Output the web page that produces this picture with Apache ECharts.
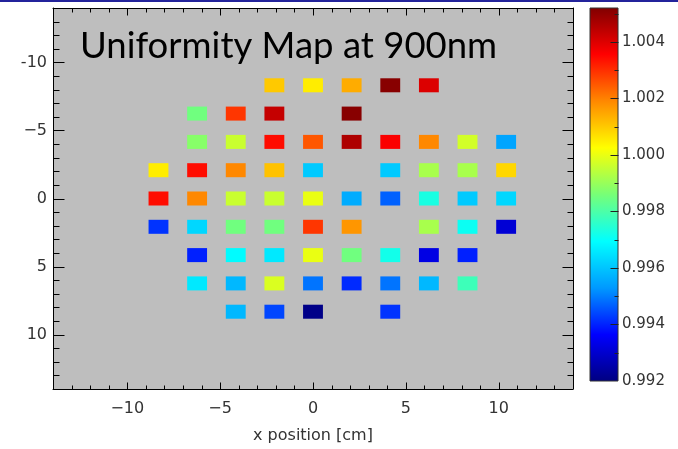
<!DOCTYPE html>
<html>
<head>
<meta charset="utf-8">
<style>
  html, body { margin: 0; padding: 0; background: #ffffff; }
  #chart { width: 678px; height: 449px; }
</style>
<script src="https://cdn.jsdelivr.net/npm/echarts@6/dist/echarts.min.js"></script>
</head>
<body>
<div id="chart"></div>
<script>
// ---- data (positions in cm, values = relative response) ----
const rowY = [-8.32, -6.24, -4.16, -2.08, 0, 2.08, 4.16, 6.24, 8.32];
const rowXs = [
  [-2.08, 0, 2.08, 4.16, 6.24],
  [-6.24, -4.16, -2.08, 2.08],
  [-6.24, -4.16, -2.08, 0, 2.08, 4.16, 6.24, 8.32, 10.4],
  [-8.32, -6.24, -4.16, -2.08, 0, 4.16, 6.24, 8.32, 10.4],
  [-8.32, -6.24, -4.16, -2.08, 0, 2.08, 4.16, 6.24, 8.32, 10.4],
  [-8.32, -6.24, -4.16, -2.08, 0, 2.08, 6.24, 8.32, 10.4],
  [-6.24, -4.16, -2.08, 0, 2.08, 4.16, 6.24, 8.32],
  [-6.24, -4.16, -2.08, 0, 2.08, 4.16, 6.24, 8.32],
  [-4.16, -2.08, 0, 4.16]
];
const rowValues = [
  [1.0010, 1.0005, 1.0014, 1.0051, 1.0040],
  [0.9985, 1.0029, 1.0043, 1.0051],
  [0.9988, 0.9996, 1.0034, 1.0025, 1.0046, 1.0036, 1.0019, 0.9997, 0.9955],
  [1.0005, 1.0034, 1.0019, 1.0011, 0.9961, 0.9961, 0.9992, 0.9992, 1.0008],
  [1.0034, 1.0019, 0.9996, 0.9996, 1.0000, 0.9956, 0.9947, 0.9973, 0.9961, 0.9963],
  [0.9942, 0.9963, 0.9985, 0.9985, 1.0029, 1.0017, 0.9992, 0.9971, 0.9931],
  [0.9940, 0.9969, 0.9966, 1.0000, 0.9985, 0.9972, 0.9933, 0.9940],
  [0.9966, 0.9958, 0.9998, 0.9949, 0.9941, 0.9949, 0.9958, 0.9978],
  [0.9958, 0.9944, 0.9921, 0.9942]
];
const cellSize = [1.07, 1.03];           // cm
const axisRange = [-14, 14];
const majorTicks = [-10, -5, 0, 5, 10];
const colorRange = [0.992, 1.0052];
const colorbarTicks = 0.002;
const jetColors = ['#000080', '#0000ff', '#0099ff', '#00ffff', '#77ff77',
                   '#ffff00', '#ff8800', '#ff0000', '#800000'];
const titleText = 'Uniformity Map at 900nm';
const xName = 'x position [cm]';

// ---- build ----
const cells = [];
rowY.forEach(function (y, i) {
  rowXs[i].forEach(function (x, j) { cells.push([x, y, rowValues[i][j]]); });
});
// tick marks: [value, isMajor]
const plotTicks = [];
for (let t = axisRange[0] + 1; t < axisRange[1]; t++) plotTicks.push([t, t % 5 === 0 ? 1 : 0]);
const barTicks = [];
for (let k = 1; k <= 13; k++) barTicks.push([Math.round((colorRange[0] + k * 0.001) * 1e4) / 1e4, k % 2 === 0 ? 1 : 0]);

const labelFont = { fontFamily: 'DejaVu Sans', fontSize: 16, color: '#333' };
function xLabel(v) { return String(v).replace('-', '\u2212'); }
function yLabel(v) { return v === -10 ? '-10' : String(v).replace('-', '\u2212'); }

function axisBase(extra) {
  return Object.assign({
    type: 'value', gridIndex: 0, min: axisRange[0], max: axisRange[1],
    splitLine: { show: false }, axisTick: { show: false },
    axisLine: { show: true, onZero: false, lineStyle: { color: '#000', width: 1 } }
  }, extra);
}

const xAxes = [
  axisBase({ position: 'bottom', name: xName, nameLocation: 'middle', nameGap: 39,
    nameTextStyle: labelFont,
    axisLabel: Object.assign({ show: true, margin: 12, customValues: majorTicks, formatter: xLabel }, labelFont) }),
  axisBase({ position: 'top', axisLabel: { show: false } }),
  { type: 'value', gridIndex: 1, min: 0, max: 1, show: false }
];
const yAxes = [
  axisBase({ position: 'left', inverse: true,
    axisLabel: Object.assign({ show: true, margin: 6, customValues: majorTicks, formatter: yLabel }, labelFont) }),
  axisBase({ position: 'right', inverse: true, axisLabel: { show: false } }),
  { type: 'value', gridIndex: 1, position: 'right', min: colorRange[0], max: colorRange[1],
    interval: colorbarTicks,
    splitLine: { show: false },
    axisLine: { show: false },
    axisTick: { show: false },
    axisLabel: Object.assign({ margin: 4, showMaxLabel: false,
      formatter: function (v) { return v.toFixed(3); } }, labelFont, { fontSize: 15 }) }
];

function px(v) { return Math.round(v) + 0.5; }
function tickLine(x1, y1, x2, y2, color) {
  return { type: 'line', shape: { x1: x1, y1: y1, x2: x2, y2: y2 }, style: { stroke: color, lineWidth: 1 } };
}

const chart = echarts.init(document.getElementById('chart'), null, { renderer: 'canvas' });
chart.setOption({
  animation: false,
  backgroundColor: '#ffffff',
  grid: [
    { left: 53, top: 8, width: 520, height: 383, show: true, backgroundColor: '#bebebe', borderWidth: 0 },
    { left: 590, top: 8, width: 28, height: 373, show: false }
  ],
  xAxis: xAxes,
  yAxis: yAxes,
  visualMap: {
    type: 'continuous', show: false, seriesIndex: 0, dimension: 2,
    min: colorRange[0], max: colorRange[1],
    inRange: { color: jetColors }
  },
  graphic: [
    { type: 'rect', left: 0, top: 0, shape: { width: 678, height: 2 }, style: { fill: '#23239b' }, z: 100 },
    { type: 'text', x: 80, y: 46, style: { text: titleText, fontFamily: 'Lato', fontSize: 36.5,
      fill: '#000', verticalAlign: 'middle' }, z: 100 }
  ],
  series: [
    {
      type: 'custom', xAxisIndex: 0, yAxisIndex: 0, z: 2,
      data: cells,
      encode: { x: 0, y: 1 },
      renderItem: function (params, api) {
        const c = api.coord([api.value(0), api.value(1)]);
        const s = api.size(cellSize);
        return { type: 'rect',
          shape: { x: c[0] - s[0] / 2, y: c[1] - s[1] / 2, width: s[0], height: s[1] },
          style: { fill: api.visual('color') } };
      }
    },
    {
      type: 'custom', xAxisIndex: 2, yAxisIndex: 2, z: 2,
      data: [[0, colorRange[0], 1, colorRange[1]]],
      encode: { x: [0, 2], y: [1, 3] },
      renderItem: function (params, api) {
        const p0 = api.coord([api.value(0), api.value(1)]);
        const p1 = api.coord([api.value(2), api.value(3)]);
        const stops = jetColors.map(function (c, i) { return { offset: i / (jetColors.length - 1), color: c }; });
        return { type: 'rect',
          shape: { x: p0[0], y: p1[1], width: p1[0] - p0[0], height: p0[1] - p1[1] },
          style: { fill: new echarts.graphic.LinearGradient(0, 1, 0, 0, stops), stroke: '#333', lineWidth: 1 } };
      }
    },
    {
      type: 'custom', xAxisIndex: 0, yAxisIndex: 0, z: 5, clip: false, silent: true,
      data: plotTicks, encode: { x: 0 },
      renderItem: function (params, api) {
        const cs = params.coordSys;
        const v = api.value(0), major = api.value(1) === 1;
        const xl = major ? 7 : 4, yl = major ? 11 : 6;
        const cx = px(api.coord([v, 0])[0]);
        const cy = px(api.coord([0, v])[1]);
        const L = px(cs.x), R = px(cs.x + cs.width), T = px(cs.y), B = px(cs.y + cs.height);
        return { type: 'group', children: [
          tickLine(cx, B, cx, B - xl, '#000'), tickLine(cx, T, cx, T + xl, '#000'),
          tickLine(L, cy, L + yl, cy, '#000'), tickLine(R, cy, R - yl, cy, '#000')
        ] };
      }
    },
    {
      type: 'custom', xAxisIndex: 2, yAxisIndex: 2, z: 5, clip: false, silent: true,
      data: barTicks, encode: { y: 0 },
      renderItem: function (params, api) {
        const cs = params.coordSys;
        const v = api.value(0), major = api.value(1) === 1;
        const cy = px(api.coord([1, v])[1]);
        const R = px(cs.x + cs.width);
        return tickLine(R, cy, R - (major ? 8 : 4), cy, '#222');
      }
    }
  ]
});
</script>
</body>
</html>
